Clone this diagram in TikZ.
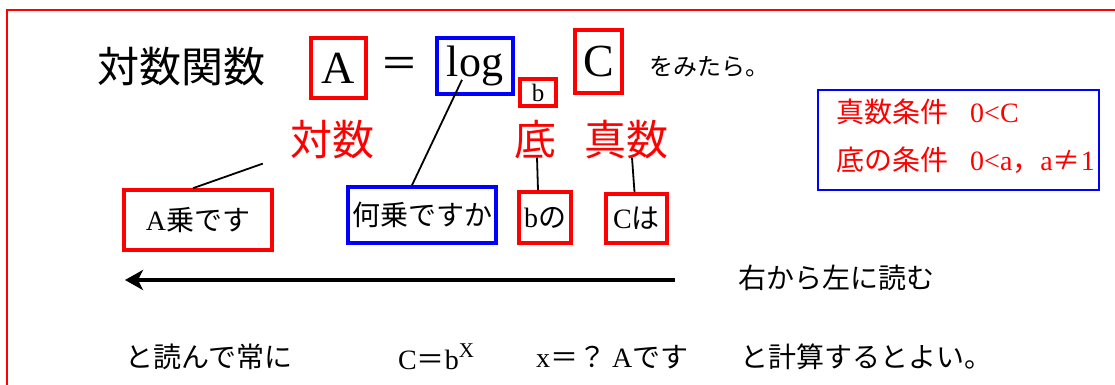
\documentclass[tikz,border=0pt]{standalone}
\usepackage{fontspec}
\setmainfont{Liberation Serif}
\newfontfamily\jp{Noto Sans CJK JP}
\usetikzlibrary{arrows.meta,calc}
\definecolor{pred}{RGB}{255,0,0}
\definecolor{pblue}{RGB}{0,0,255}
\newcommand{\fs}[1]{\fontsize{#1}{#1}\selectfont}
\tikzset{
  rbox/.style={draw=pred, line width=3.6pt, inner sep=1pt, align=center},
  bbox/.style={draw=pblue, line width=3.6pt, inner sep=1pt, align=center},
  lbl/.style={inner sep=0pt, text=pred},
  txt/.style={inner sep=0pt},
  conn/.style={draw=black, line width=1.8pt},
}
\begin{document}
\begin{tikzpicture}[x=1pt,y=-1pt]
\useasboundingbox (0,0) rectangle (1115,385);
\fill[white] (0,0) rectangle (1115,385);
% outer frame
\draw[pred, line width=2.4pt] (7,400) -- (7,10) -- (1125,10);

% top formula
\node[txt] (title) at (181,67) {\jp\fs{42}対数関数};
\node[rbox, minimum width=55pt, minimum height=60pt] (boxA) at (338.5,68) {\fs{46}A};
\node[txt] (eq) at (399,67) {\jp\fs{38}＝};
\node[bbox, minimum width=76pt, minimum height=56pt] (boxlog) at (475,66) {\raisebox{-3pt}{\fs{44}log}};
\node[rbox, minimum width=36pt, minimum height=27pt] (boxb) at (538,92.5) {\fs{25}b};
\node[rbox, minimum width=47pt, minimum height=63pt] (boxC) at (598.5,61.5) {\fs{46}C};
\node[txt] (miru) at (709,67) {\jp\fs{24}をみたら。};

% red labels
\node[lbl] (taisu) at (332,140) {\jp\fs{42}対数};
\node[lbl] (tei) at (535,140) {\jp\fs{42}底};
\node[lbl] (shinsu) at (626,140) {\jp\fs{42}真数};

% lower boxes
\node[rbox, minimum width=148pt, minimum height=60pt] (boxAjou) at (198,220) {\fs{28}A{\jp 乗です}};
\node[bbox, minimum width=148pt, minimum height=56pt] (boxnan) at (422,215) {\jp\fs{28}何乗ですか};
\node[rbox, minimum width=52pt, minimum height=51pt] (boxbno) at (545,217.5) {\fs{28}b{\jp の}};
\node[rbox, minimum width=61pt, minimum height=49pt] (boxCha) at (636.5,218.5) {\fs{28}C{\jp は}};

% connectors
\draw[conn] ([xshift=-27pt,yshift=-4pt]taisu.south west) -- ([xshift=-5pt]boxAjou.north);
\draw[conn] ([xshift=-13pt,yshift=16pt]boxlog.south) -- ([xshift=-10pt]boxnan.north);
\draw[conn] ([xshift=2pt,yshift=2pt]tei.south) -- ([xshift=-7pt]boxbno.north);
\draw[conn] ([xshift=6pt,yshift=2pt]shinsu.south) -- ([xshift=-2pt]boxCha.north);

% conditions box
\node[draw=pblue, line width=2.4pt, minimum width=281pt, minimum height=100pt] (cond) at (958.5,140) {};
\node[txt, anchor=west, text=pred] (c1) at (836,112) {\fs{28}{\jp 真数条件}\hspace{22pt}0<C};
\node[txt, anchor=west, text=pred] (c2) at (836,160) {\fs{28}{\jp 底の条件}\hspace{22pt}0<a{\jp ，}a{\jp ≠}1};

% arrow
\coordinate (arrS) at (675,280);
\coordinate (arrE) at (125,280);
\draw[line width=3.6pt, -{Stealth[length=18pt,width=20pt,inset=5pt]}] (arrS) -- (arrE);
\node[txt] (migi) at (836,278) {\jp\fs{28}右から左に読む};

% bottom line
\node[txt] (b1) at (209,357) {\jp\fs{28}と読んで常に};
\node[txt] (b2) at (436,357) {\fs{28}C{\jp ＝}b\raisebox{12pt}{\fs{21}X}};
\node[txt, anchor=west] (b3) at (536,357) {\fs{28}x{\jp ＝？}\hspace{6pt}A{\jp です}};
\node[txt, anchor=west] (b4) at (740,357) {\jp\fs{28}と計算するとよい。};
\end{tikzpicture}
\end{document}
